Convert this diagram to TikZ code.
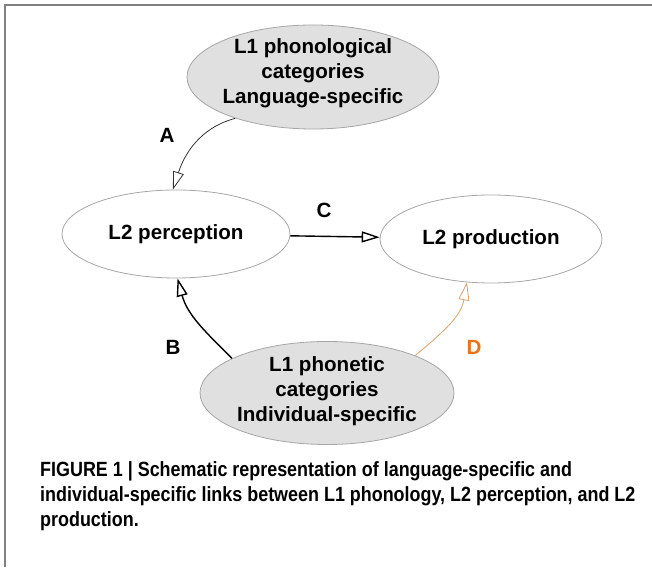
\documentclass[tikz,border=0pt]{standalone}
\usepackage{fontspec}
\setmainfont{Liberation Sans}
\newfontfamily\capfont[FakeStretch=0.87]{Liberation Sans}
\usetikzlibrary{arrows.meta,shapes.geometric}
\definecolor{blobgray}{RGB}{224,224,224}
\definecolor{linkD}{RGB}{214,160,110}
\definecolor{labD}{RGB}{232,115,26}

\begin{document}
\begin{tikzpicture}
  [x=1pt, y=1pt, font=\fontsize{20.6}{25}\selectfont\bfseries,
   blob/.style={ellipse, draw=gray!70, line width=.8pt, inner sep=0pt},
   link/.style={-{Triangle[open,length=18pt,width=11pt]}, line width=1.4pt}]
  \useasboundingbox (0,0) rectangle (652,567);
  \draw[gray, line width=1.5pt] (5,0) -- (5,562) -- (652,562);

  \node[blob, fill=blobgray, minimum width=252, minimum height=104] (l1phon) at (313,490) {};
  \node[align=center] (t1) at (313,494) {L1 phonological\\categories\\Language-specific};
  \node[blob, minimum width=228, minimum height=88] (l2perc) at (176,333) {L2 perception};
  \node[blob, minimum width=222, minimum height=88] (l2prod) at (491,328) {L2 production};
  \node[blob, fill=blobgray, minimum width=254, minimum height=103] (l1phnt) at (327,174) {};
  \node[align=center] (t2) at (327,176) {L1 phonetic\\categories\\Individual-specific};

  \draw[link, line width=.8pt, black!80] (l1phon.208) to[out=195, in=72] (l2perc.94);
  \draw[link] (l2perc) -- (l2prod);
  \draw[link] (l1phnt.160) to[out=135, in=285] (l2perc.272);
  \draw[link, line width=.8pt, linkD] (l1phnt.23) to[out=40, in=260] (l2prod.241);

  \node (labA) at (167,432) {A};
  \node (labC) at (324,357) {C};
  \node (labB) at (173,220) {B};
  \node[labD] (labD) at (474,220) {D};

  \node[anchor=north west, align=left, inner sep=0pt,
        font=\capfont\fontsize{20.6}{25}\selectfont\bfseries] (cap) at (40,106)
    {FIGURE 1 | Schematic representation of language-specific and\\
     individual-specific links between L1 phonology, L2 perception, and L2\\
     production.};
\end{tikzpicture}
\end{document}
